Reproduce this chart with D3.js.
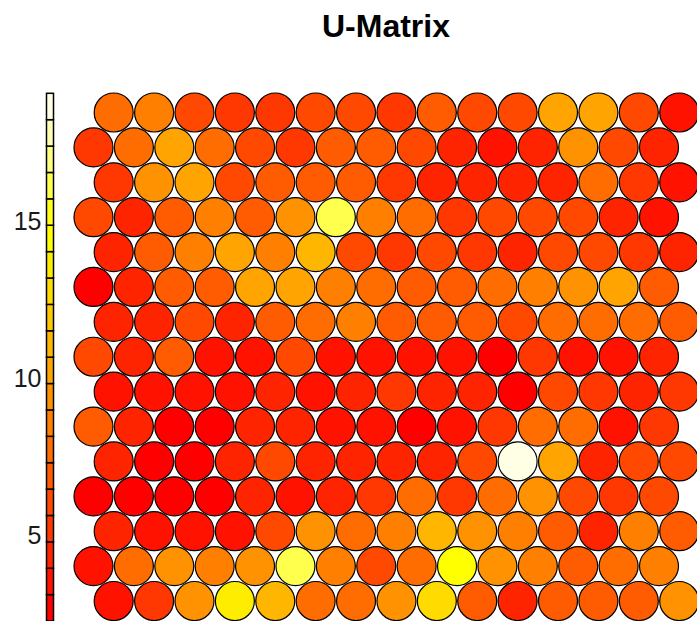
<!DOCTYPE html>
<html>
<head>
<meta charset="utf-8">
<script src="https://cdn.jsdelivr.net/npm/d3@7"></script>
<style>
  html, body { margin: 0; padding: 0; background: #fff; }
  svg { display: block; }
</style>
</head>
<body>
<svg id="chart" width="697" height="621"></svg>
<script>
// U-matrix distances per SOM unit, top row first (15 rows x 15 columns)
const umatRows = [
  [7.8, 8.6, 6.1, 5.2, 5.2, 6.1, 6.1, 5.2, 6.9, 6.1, 6.1, 10.3, 10.3, 6.1, 3.6],
  [5.2, 7.8, 10.3, 7.8, 6.1, 5.2, 6.9, 6.9, 6.1, 4.4, 3.6, 4.4, 9.4, 6.1, 4.4],
  [5.2, 9.4, 10.3, 6.1, 6.9, 6.9, 6.9, 5.2, 4.4, 4.4, 4.4, 4.4, 7.8, 5.2, 3.6],
  [6.1, 4.4, 6.9, 8.6, 6.9, 9.4, 16.2, 8.6, 7.8, 5.2, 6.1, 6.1, 6.1, 4.4, 3.6],
  [4.4, 6.9, 8.6, 10.3, 8.6, 11.1, 6.1, 5.2, 6.1, 5.2, 4.4, 6.1, 6.1, 5.2, 4.4],
  [2.7, 4.4, 6.9, 6.9, 10.3, 10.3, 8.6, 7.8, 6.9, 6.9, 7.8, 8.6, 9.4, 10.3, 6.9],
  [4.4, 4.4, 6.1, 4.4, 6.9, 7.8, 8.6, 6.9, 6.9, 6.9, 6.1, 7.8, 7.8, 7.8, 6.9],
  [6.1, 4.4, 6.9, 3.6, 3.6, 6.1, 3.6, 3.6, 3.6, 3.6, 2.7, 5.2, 3.6, 3.6, 4.4],
  [3.6, 3.6, 3.6, 3.6, 4.4, 3.6, 4.4, 5.2, 4.4, 4.4, 2.7, 6.1, 5.2, 4.4, 5.2],
  [6.9, 4.4, 2.7, 2.7, 4.4, 4.4, 3.6, 3.6, 2.7, 3.6, 5.2, 7.8, 7.8, 3.6, 5.2],
  [4.4, 2.7, 2.7, 4.4, 6.1, 4.4, 4.4, 4.4, 4.4, 6.1, 19.09, 10.3, 4.4, 6.1, 6.1],
  [2.29, 2.7, 2.7, 2.7, 4.4, 3.6, 4.4, 5.2, 7.8, 5.2, 7.8, 9.4, 6.1, 5.2, 6.1],
  [4.4, 3.6, 3.6, 3.6, 6.1, 9.4, 7.8, 8.6, 11.1, 9.4, 8.6, 6.9, 4.4, 8.6, 6.9],
  [3.6, 7.8, 9.4, 8.6, 9.4, 16.2, 8.6, 6.1, 7.8, 14.5, 9.4, 8.6, 6.9, 7.8, 8.6],
  [3.6, 5.2, 9.4, 13.6, 11.1, 7.8, 7.8, 9.4, 12.8, 6.9, 4.4, 6.9, 6.9, 6.9, 9.4]
];
const legendTicks = [5, 10, 15];
const chartTitle = "U-Matrix";

// heat.colors(20): red -> yellow hues, then fading yellows
function heatColors(n) {
  const j = Math.floor(n / 4), i = n - j;
  const out = [];
  for (let k = 0; k < i; k++) {
    const g = Math.round(255 * (k / (i - 1)));
    out.push(d3.rgb(255, g, 0).formatHex());
  }
  for (let k = 0; k < j; k++) {
    const s = (1 - 1 / (2 * j)) - k * ((1 - 1 / j) / (j - 1));
    out.push(d3.rgb(255, 255, Math.round(255 * (1 - s))).formatHex());
  }
  return out;
}
const palette = heatColors(20);

const svg = d3.select("#chart");
const nRows = umatRows.length, nCols = umatRows[0].length;
const cells = [];
umatRows.forEach((row, r) => row.forEach((v, c) => cells.push({ r, c, v })));

const extent = d3.extent(cells, d => d.v);
const color = d3.scaleQuantize().domain(extent).range(palette);

// hexagonal layout: even rows (from top) shifted half a unit right
const x = d3.scaleLinear().domain([0, nCols - 1]).range([93.5, 659]);
const y = d3.scaleLinear().domain([0, nRows - 1]).range([112.5, 601]);
const radius = 19.5;

svg.append("g")
  .selectAll("circle")
  .data(cells)
  .join("circle")
  .attr("cx", d => x(d.c + (d.r % 2 === 0 ? 0.5 : 0)))
  .attr("cy", d => y(d.r))
  .attr("r", radius)
  .attr("fill", d => color(d.v))
  .attr("stroke", "#000")
  .attr("stroke-width", 1.2);

// colour key
const barY = d3.scaleLinear().domain(extent).range([621, 93.3]);
const barX = 46.5, barW = 7;
const breaks = d3.range(palette.length + 1).map(i => extent[0] + i * (extent[1] - extent[0]) / palette.length);
const key = svg.append("g");
key.selectAll("rect")
  .data(palette)
  .join("rect")
  .attr("x", barX)
  .attr("y", (d, i) => barY(breaks[i + 1]))
  .attr("width", barW)
  .attr("height", (d, i) => barY(breaks[i]) - barY(breaks[i + 1]))
  .attr("fill", d => d)
  .attr("stroke", "#000")
  .attr("stroke-width", 1.5);

const axis = svg.append("g")
  .attr("transform", `translate(${barX - 1},0)`)
  .call(d3.axisLeft(barY).tickValues(legendTicks).tickSize(0).tickPadding(4));
axis.select(".domain").remove();
axis.selectAll("text")
  .attr("font-family", "Liberation Sans, Arial, sans-serif")
  .attr("font-size", 25)
  .attr("fill", "#1a1a1a");

svg.append("text")
  .attr("x", 386)
  .attr("y", 37)
  .attr("text-anchor", "middle")
  .attr("font-family", "Liberation Sans, Arial, sans-serif")
  .attr("font-weight", "bold")
  .attr("font-size", 32)
  .attr("fill", "#000")
  .text(chartTitle);
</script>
</body>
</html>
